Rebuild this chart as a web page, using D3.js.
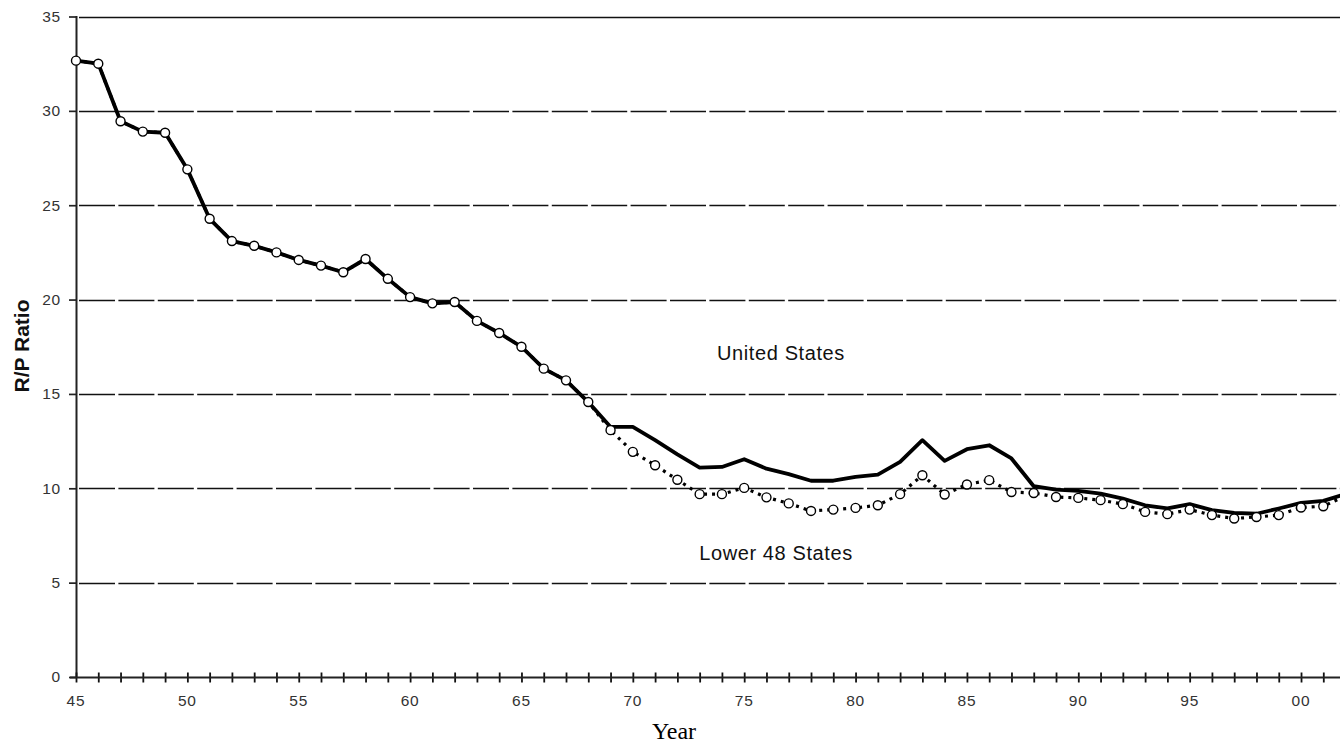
<!DOCTYPE html>
<html>
<head>
<meta charset="utf-8">
<script src="https://cdn.jsdelivr.net/npm/d3@7"></script>
<style>
  body { margin: 0; background: #fff; }
  svg { display: block; }
  text { font-family: "Liberation Sans", Arial, sans-serif; }
</style>
</head>
<body>
<svg width="1340" height="745"></svg>
<script>
// years 1945 - 2002
var years = d3.range(1945, 2003);

var lower48 = [32.66, 32.5, 29.45, 28.9, 28.84, 26.9, 24.28, 23.1, 22.85, 22.5,
               22.1, 21.8, 21.45, 22.15, 21.1, 20.13, 19.8, 19.87, 18.87, 18.23,
               17.5, 16.34, 15.72, 14.57, 13.08, 11.93, 11.22, 10.45, 9.69, 9.69,
               10.02, 9.52, 9.2, 8.8, 8.87, 8.96, 9.1, 9.69, 10.69, 9.67,
               10.2, 10.43, 9.8, 9.75, 9.54, 9.49, 9.37, 9.16, 8.75, 8.63,
               8.87, 8.58, 8.4, 8.48, 8.58, 8.98, 9.05, 9.6];

var unitedStates = [32.66, 32.5, 29.45, 28.9, 28.84, 26.9, 24.28, 23.1, 22.85, 22.5,
                    22.1, 21.8, 21.45, 22.15, 21.1, 20.13, 19.8, 19.87, 18.87, 18.23,
                    17.5, 16.34, 15.72, 14.57, 13.25, 13.25, 12.55, 11.8, 11.1, 11.13,
                    11.54, 11.04, 10.75, 10.4, 10.4, 10.6, 10.72, 11.4, 12.55, 11.45,
                    12.07, 12.28, 11.58, 10.11, 9.93, 9.86, 9.72, 9.45, 9.1, 8.93,
                    9.16, 8.84, 8.7, 8.65, 8.93, 9.23, 9.33, 9.7];

var yTicks = [0, 5, 10, 15, 20, 25, 30, 35];
var xLabelYears = d3.range(1945, 2001, 5);

var svg = d3.select("svg");

var x = d3.scaleLinear().domain([1945, 2001.75]).range([76, 1340]),
    y = d3.scaleLinear().domain([0, 35]).range([677, 16.5]);

var usData = years.map(function(d, i) { return {year: d, v: unitedStates[i]}; });
var l48Data = years.map(function(d, i) { return {year: d, v: lower48[i]}; });

// gridlines
svg.append("g")
    .selectAll("line")
    .data(yTicks.filter(function(d) { return d > 0; }))
    .enter().append("line")
    .attr("x1", 79)
    .attr("x2", 1340)
    .attr("y1", function(d) { return Math.round(y(d)) + 0.5; })
    .attr("y2", function(d) { return Math.round(y(d)) + 0.5; })
    .attr("stroke", "#111")
    .attr("stroke-width", 1.7)
    .attr("stroke-dasharray", function(d) { return d == 35 ? null : "36,3.4"; });

// y axis
var yAxis = svg.append("g")
    .attr("transform", "translate(76,0)")
    .call(d3.axisLeft(y).tickValues(yTicks).tickSize(7).tickPadding(8));
yAxis.select(".domain").remove();
yAxis.selectAll("line").attr("stroke", "#222").attr("stroke-width", 1.7);
yAxis.selectAll("text")
    .attr("font-size", "15.5px")
    .attr("letter-spacing", "0.8px")
    .attr("fill", "#333")
    .style("font-family", "Liberation Sans, Arial, sans-serif");

svg.append("line")
    .attr("x1", 76.5).attr("x2", 76.5)
    .attr("y1", 16).attr("y2", 678)
    .attr("stroke", "#222").attr("stroke-width", 2);

// x axis
var xAxis = svg.append("g")
    .attr("transform", "translate(0," + 677.5 + ")")
    .call(d3.axisBottom(x).tickValues(d3.range(1945, 2002)).tickSize(0).tickFormat(""));
xAxis.select(".domain").remove();
xAxis.selectAll(".tick line")
    .attr("y1", -5).attr("y2", 5)
    .attr("stroke", "#111").attr("stroke-width", 1.8);

svg.append("line")
    .attr("x1", 70).attr("x2", 1340)
    .attr("y1", 677.5).attr("y2", 677.5)
    .attr("stroke", "#222").attr("stroke-width", 2);

svg.append("g")
    .selectAll("text")
    .data(xLabelYears)
    .enter().append("text")
    .attr("x", function(d) { return x(d); })
    .attr("y", 706)
    .attr("text-anchor", "middle")
    .attr("font-size", "15.5px")
    .attr("letter-spacing", "0.8px")
    .attr("fill", "#333")
    .text(function(d) { return d3.format("02")(d % 100); });

// lines
var line = d3.line()
    .x(function(d) { return x(d.year); })
    .y(function(d) { return y(d.v); });

svg.append("path")
    .datum(usData)
    .attr("d", line)
    .attr("fill", "none")
    .attr("stroke", "#000")
    .attr("stroke-width", 3.8)
    .attr("stroke-linejoin", "round");

svg.append("path")
    .datum(l48Data)
    .attr("d", line)
    .attr("fill", "none")
    .attr("stroke", "#000")
    .attr("stroke-width", 3.2)
    .attr("stroke-dasharray", "3,5");

svg.append("g")
    .selectAll("circle")
    .data(l48Data)
    .enter().append("circle")
    .attr("cx", function(d) { return x(d.year); })
    .attr("cy", function(d) { return y(d.v); })
    .attr("r", 4.5)
    .attr("fill", "#fff")
    .attr("stroke", "#000")
    .attr("stroke-width", 1.4);

// labels
svg.append("text")
    .attr("x", 781).attr("y", 360)
    .attr("text-anchor", "middle")
    .attr("font-size", "20px")
    .attr("letter-spacing", "0.6px")
    .attr("fill", "#111")
    .text("United States");

svg.append("text")
    .attr("x", 776).attr("y", 560)
    .attr("text-anchor", "middle")
    .attr("font-size", "20px")
    .attr("letter-spacing", "0.6px")
    .attr("fill", "#111")
    .text("Lower 48 States");

svg.append("text")
    .attr("transform", "translate(29,346) rotate(-90)")
    .attr("text-anchor", "middle")
    .attr("font-size", "21px")
    .attr("font-weight", "bold")
    .attr("fill", "#111")
    .text("R/P Ratio");

svg.append("text")
    .attr("x", 674).attr("y", 739)
    .attr("text-anchor", "middle")
    .attr("font-size", "24px")
    .style("font-family", "Liberation Serif, Times New Roman, serif")
    .attr("fill", "#000")
    .text("Year");
</script>
</body>
</html>
